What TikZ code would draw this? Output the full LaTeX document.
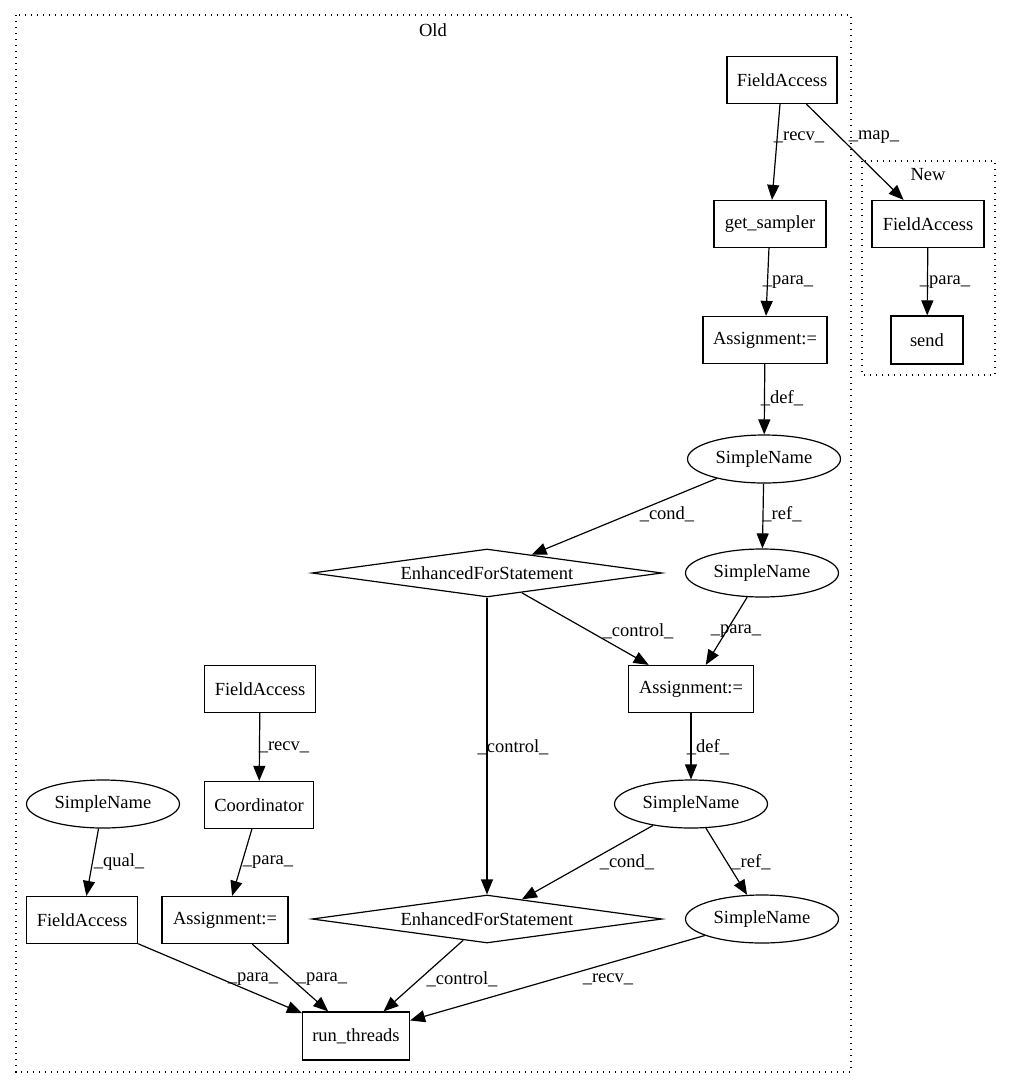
\documentclass[tikz,border=0pt]{standalone}
\usepackage{fontspec}
\setmainfont{Liberation Serif}
\usetikzlibrary{shapes.geometric,arrows.meta}
\begin{document}
\begin{tikzpicture}[x=1pt,y=-1pt,
  every node/.style={font=\fontsize{18.5}{21}\selectfont, inner sep=0pt},
  box/.style={draw, line width=1.2pt, rectangle, minimum height=47pt},
  ell/.style={draw, line width=1.2pt, ellipse, minimum width=153pt, minimum height=48pt},
  dia/.style={draw, line width=1.2pt, diamond, aspect=7.3, minimum width=350pt, minimum height=48pt},
  edge/.style={draw, line width=1.2pt, -{Triangle[length=15pt,width=12pt]}},
  lbl/.style={font=\fontsize{18.5}{21}\selectfont},
  cluster/.style={draw, line width=1.2pt, dash pattern=on 1.4pt off 4.6pt}
]
\useasboundingbox (0,0) rectangle (1011,1088);
% clusters
\draw[cluster] (16,15) rectangle (851,1072);
\node (oldlbl) at (433,30) {Old};
\draw[cluster] (862,161) rectangle (995,375);
\node (newlbl) at (928,175) {New};

% nodes Old
\node[box, minimum width=110pt] (fa1) at (782,80) {FieldAccess};
\node[box, minimum width=112pt] (gs) at (770,224) {get\_sampler};
\node[box, minimum width=124pt] (as1) at (765,340) {Assignment:=};
\node[ell] (sn1) at (764,459) {SimpleName};
\node[dia] (efs1) at (487,573) {EnhancedForStatement};
\node[ell] (sn2) at (762,573) {SimpleName};
\node[box, minimum width=125pt] (as2) at (691,689) {Assignment:=};
\node[box, minimum width=111pt] (fa2) at (260,689) {FieldAccess};
\node[box, minimum width=109pt] (coord) at (259,805) {Coordinator};
\node[ell] (snl) at (103,804) {SimpleName};
\node[ell] (sn3) at (691,804) {SimpleName};
\node[box, minimum width=111pt] (fa3) at (82,920) {FieldAccess};
\node[box, minimum width=126pt] (as3) at (225,920) {Assignment:=};
\node[dia] (efs2) at (487,919) {EnhancedForStatement};
\node[ell] (sn4) at (762,919) {SimpleName};
\node[box, minimum width=107pt, minimum height=48pt] (rt) at (356,1036) {run\_threads};
% nodes New
\node[box, minimum width=112pt] (fan) at (928,224) {FieldAccess};
\node[box, minimum width=72pt, minimum height=48pt] (send) at (927,340) {send};

% edges
\draw[edge] (fa1) -- (gs) node[lbl] at (799,137) {\_recv\_};
\draw[edge] (fa1) -- (fan) node[lbl] at (874,137) {\_map\_};
\draw[edge] (gs) -- (as1) node[lbl] at (788,282) {\_para\_};
\draw[edge] (as1) -- (sn1) node[lbl] at (782,398) {\_def\_};
\draw[edge] (sn1) -- (efs1) node[lbl] at (667,514) {\_cond\_};
\draw[edge] (sn1) -- (sn2) node[lbl] at (782,514) {\_ref\_};
\draw[edge] (efs1) -- (as2) node[lbl] at (638,631) {\_control\_};
\draw[edge] (sn2) -- (as2) node[lbl] at (736,631) {\_para\_};
\draw[edge] (efs1) -- (efs2) node[lbl] at (513,747) {\_control\_};
\draw[edge] (as2) -- (sn3) node[lbl] at (708,747) {\_def\_};
\draw[edge] (fa2) -- (coord) node[lbl] at (284,747) {\_recv\_};
\draw[edge] (snl) -- (fa3) node[lbl] at (119,862) {\_qual\_};
\draw[edge] (coord) -- (as3) node[lbl] at (268,862) {\_para\_};
\draw[edge] (sn3) -- (efs2) node[lbl] at (627,862) {\_cond\_};
\draw[edge] (sn3) -- (sn4) node[lbl] at (751,862) {\_ref\_};
\draw[edge] (fa3) -- (rt) node[lbl] at (253,979) {\_para\_};
\draw[edge] (as3) -- (rt) node[lbl] at (322,979) {\_para\_};
\draw[edge] (efs2) -- (rt) node[lbl] at (462,979) {\_control\_};
\draw[edge] (sn4) -- (rt) node[lbl] at (608,979) {\_recv\_};
\draw[edge] (fan) -- (send) node[lbl] at (945,282) {\_para\_};
\end{tikzpicture}
\end{document}
